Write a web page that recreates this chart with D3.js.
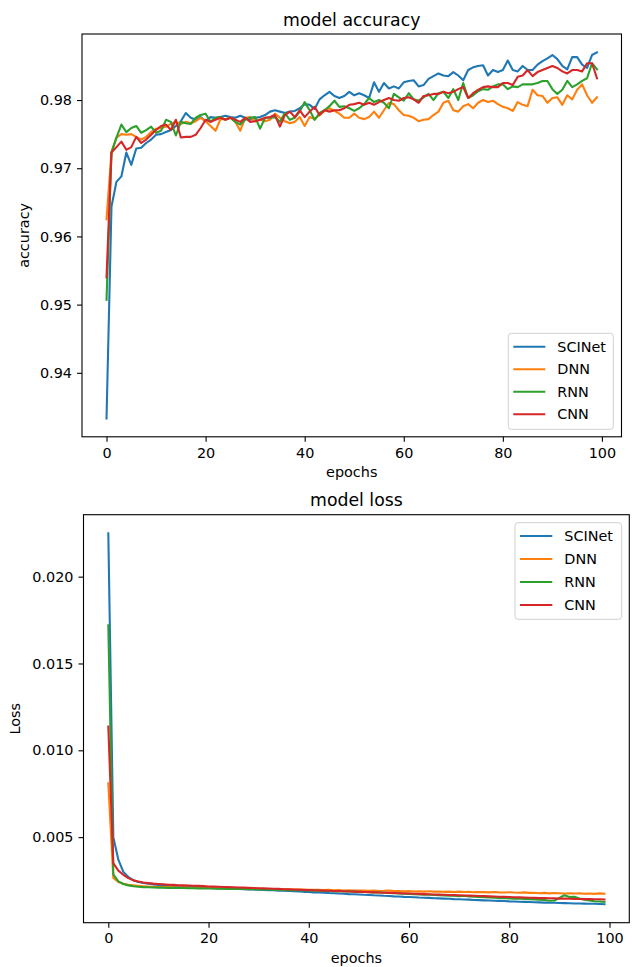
<!DOCTYPE html>
<html>
<head>
<meta charset="utf-8">
<script src="https://cdn.jsdelivr.net/npm/d3@7"></script>
<style>
  html, body { margin: 0; padding: 0; background: #fff; }
  svg { display: block; font-family: "DejaVu Sans", sans-serif; }
</style>
</head>
<body>
<svg id="fig" width="633" height="967"></svg>
<script>
// Training history for the four models, one value per epoch.
const epochs = d3.range(100);
const modelNames = ["SCINet", "DNN", "RNN", "CNN"];
const modelColors = ["#1f77b4", "#ff7f0e", "#2ca02c", "#d62728"];

const accSCINet = [
  0.9333, 0.9644, 0.9680, 0.9688, 0.9723, 0.9705, 0.9729, 0.9730, 0.9737, 0.9742,
  0.9749, 0.9750, 0.9753, 0.9756, 0.9762, 0.9769, 0.9781, 0.9774, 0.9771, 0.9775,
  0.9769, 0.9775, 0.9774, 0.9775, 0.9777, 0.9775, 0.9774, 0.9777, 0.9774, 0.9771,
  0.9774, 0.9775, 0.9778, 0.9783, 0.9785, 0.9783, 0.9781, 0.9783, 0.9784, 0.9788,
  0.9794, 0.9793, 0.9787, 0.9801, 0.9807, 0.9812, 0.9806, 0.9803, 0.9806, 0.9812,
  0.9807, 0.9810, 0.9807, 0.9803, 0.9826, 0.9812, 0.9825, 0.9817, 0.9820, 0.9817,
  0.9826, 0.9828, 0.9829, 0.9820, 0.9822, 0.9831, 0.9835, 0.9839, 0.9836, 0.9835,
  0.9841, 0.9836, 0.9829, 0.9844, 0.9848, 0.9850, 0.9851, 0.9836, 0.9844, 0.9841,
  0.9844, 0.9858, 0.9844, 0.9842, 0.9850, 0.9844, 0.9844, 0.9852, 0.9857, 0.9861,
  0.9866, 0.9860, 0.9850, 0.9845, 0.9863, 0.9863, 0.9852, 0.9847, 0.9866, 0.9870
];
const accDNN = [
  0.9625, 0.9724, 0.9745, 0.9750, 0.9749, 0.9750, 0.9746, 0.9742, 0.9746, 0.9753,
  0.9758, 0.9759, 0.9761, 0.9765, 0.9768, 0.9765, 0.9768, 0.9766, 0.9769, 0.9774,
  0.9769, 0.9762, 0.9755, 0.9772, 0.9772, 0.9774, 0.9768, 0.9755, 0.9774, 0.9775,
  0.9769, 0.9771, 0.9769, 0.9771, 0.9780, 0.9774, 0.9769, 0.9766, 0.9768, 0.9775,
  0.9762, 0.9775, 0.9772, 0.9778, 0.9784, 0.9788, 0.9784, 0.9780, 0.9774, 0.9774,
  0.9780, 0.9774, 0.9772, 0.9775, 0.9783, 0.9774, 0.9785, 0.9796, 0.9794, 0.9785,
  0.9778, 0.9777, 0.9774, 0.9769, 0.9771, 0.9772, 0.9778, 0.9783, 0.9796, 0.9799,
  0.9785, 0.9783, 0.9791, 0.9794, 0.9788, 0.9796, 0.9800, 0.9797, 0.9799, 0.9794,
  0.9790, 0.9788, 0.9784, 0.9797, 0.9793, 0.9791, 0.9815, 0.9807, 0.9806, 0.9796,
  0.9803, 0.9804, 0.9793, 0.9807, 0.9801, 0.9815, 0.9823, 0.9807, 0.9796, 0.9804
];
const accRNN = [
  0.9507, 0.9723, 0.9745, 0.9764, 0.9753, 0.9759, 0.9762, 0.9752, 0.9756, 0.9761,
  0.9752, 0.9755, 0.9771, 0.9768, 0.9748, 0.9768, 0.9766, 0.9765, 0.9774, 0.9778,
  0.9780, 0.9768, 0.9774, 0.9775, 0.9771, 0.9774, 0.9768, 0.9764, 0.9771, 0.9774,
  0.9775, 0.9758, 0.9774, 0.9774, 0.9775, 0.9768, 0.9781, 0.9771, 0.9774, 0.9783,
  0.9797, 0.9785, 0.9771, 0.9781, 0.9785, 0.9791, 0.9799, 0.9790, 0.9791, 0.9788,
  0.9784, 0.9788, 0.9794, 0.9803, 0.9797, 0.9800, 0.9796, 0.9788, 0.9809, 0.9804,
  0.9799, 0.9810, 0.9801, 0.9799, 0.9804, 0.9809, 0.9800, 0.9810, 0.9812, 0.9803,
  0.9816, 0.9800, 0.9825, 0.9803, 0.9807, 0.9813, 0.9816, 0.9815, 0.9820, 0.9823,
  0.9823, 0.9816, 0.9820, 0.9819, 0.9823, 0.9823, 0.9823, 0.9825, 0.9828, 0.9828,
  0.9816, 0.9809, 0.9815, 0.9828, 0.9819, 0.9823, 0.9828, 0.9832, 0.9854, 0.9845
];
const accCNN = [
  0.9540, 0.9723, 0.9731, 0.9739, 0.9727, 0.9731, 0.9746, 0.9737, 0.9742, 0.9749,
  0.9756, 0.9762, 0.9764, 0.9756, 0.9771, 0.9745, 0.9746, 0.9746, 0.9749, 0.9759,
  0.9771, 0.9768, 0.9771, 0.9774, 0.9771, 0.9774, 0.9771, 0.9768, 0.9774, 0.9768,
  0.9769, 0.9771, 0.9774, 0.9775, 0.9778, 0.9761, 0.9778, 0.9783, 0.9775, 0.9785,
  0.9775, 0.9783, 0.9790, 0.9778, 0.9785, 0.9783, 0.9785, 0.9785, 0.9788, 0.9793,
  0.9794, 0.9796, 0.9793, 0.9796, 0.9793, 0.9797, 0.9800, 0.9803, 0.9800, 0.9799,
  0.9803, 0.9804, 0.9801, 0.9796, 0.9806, 0.9807, 0.9809, 0.9809, 0.9812, 0.9810,
  0.9812, 0.9816, 0.9819, 0.9803, 0.9810, 0.9815, 0.9819, 0.9820, 0.9819, 0.9819,
  0.9825, 0.9825, 0.9822, 0.9834, 0.9836, 0.9844, 0.9835, 0.9841, 0.9844, 0.9847,
  0.9850, 0.9847, 0.9842, 0.9839, 0.9844, 0.9844, 0.9842, 0.9854, 0.9854, 0.9832
];

const lossSCINet = [
  0.02250, 0.00500, 0.00370, 0.00300, 0.00270, 0.00252, 0.00242, 0.00236, 0.00232, 0.00228,
  0.00225, 0.00223, 0.00221, 0.00219, 0.00217, 0.00216, 0.00214, 0.00212, 0.00210, 0.00209,
  0.00207, 0.00206, 0.00205, 0.00204, 0.00203, 0.00202, 0.00201, 0.00200, 0.00199, 0.00198,
  0.00197, 0.00196, 0.00195, 0.00194, 0.00192, 0.00191, 0.00190, 0.00188, 0.00187, 0.00185,
  0.00184, 0.00182, 0.00181, 0.00180, 0.00178, 0.00177, 0.00175, 0.00174, 0.00172, 0.00171,
  0.00170, 0.00168, 0.00167, 0.00165, 0.00164, 0.00162, 0.00161, 0.00159, 0.00158, 0.00156,
  0.00155, 0.00154, 0.00152, 0.00151, 0.00150, 0.00148, 0.00147, 0.00146, 0.00145, 0.00143,
  0.00142, 0.00141, 0.00140, 0.00138, 0.00137, 0.00136, 0.00135, 0.00134, 0.00133, 0.00132,
  0.00130, 0.00129, 0.00128, 0.00127, 0.00126, 0.00125, 0.00124, 0.00123, 0.00122, 0.00122,
  0.00121, 0.00120, 0.00119, 0.00118, 0.00118, 0.00117, 0.00116, 0.00116, 0.00115, 0.00114
];
const lossDNN = [
  0.00810, 0.00265, 0.00242, 0.00232, 0.00226, 0.00222, 0.00219, 0.00217, 0.00215, 0.00214,
  0.00213, 0.00212, 0.00212, 0.00211, 0.00210, 0.00211, 0.00209, 0.00208, 0.00209, 0.00207,
  0.00207, 0.00206, 0.00207, 0.00205, 0.00205, 0.00204, 0.00205, 0.00203, 0.00203, 0.00202,
  0.00203, 0.00201, 0.00201, 0.00200, 0.00201, 0.00199, 0.00199, 0.00198, 0.00199, 0.00197,
  0.00197, 0.00196, 0.00197, 0.00195, 0.00196, 0.00194, 0.00195, 0.00193, 0.00194, 0.00193,
  0.00192, 0.00193, 0.00191, 0.00192, 0.00190, 0.00191, 0.00193, 0.00189, 0.00190, 0.00188,
  0.00189, 0.00187, 0.00188, 0.00186, 0.00188, 0.00186, 0.00187, 0.00185, 0.00186, 0.00184,
  0.00186, 0.00184, 0.00185, 0.00183, 0.00184, 0.00183, 0.00182, 0.00184, 0.00182, 0.00181,
  0.00183, 0.00181, 0.00180, 0.00182, 0.00179, 0.00180, 0.00177, 0.00179, 0.00176, 0.00178,
  0.00177, 0.00175, 0.00177, 0.00175, 0.00176, 0.00174, 0.00175, 0.00173, 0.00176, 0.00174
];
const lossRNN = [
  0.01720, 0.00285, 0.00245, 0.00230, 0.00222, 0.00217, 0.00214, 0.00212, 0.00211, 0.00210,
  0.00209, 0.00209, 0.00208, 0.00208, 0.00207, 0.00207, 0.00206, 0.00206, 0.00205, 0.00205,
  0.00204, 0.00204, 0.00203, 0.00203, 0.00202, 0.00202, 0.00201, 0.00201, 0.00200, 0.00200,
  0.00199, 0.00198, 0.00198, 0.00197, 0.00197, 0.00196, 0.00195, 0.00195, 0.00194, 0.00193,
  0.00193, 0.00192, 0.00191, 0.00190, 0.00190, 0.00189, 0.00188, 0.00187, 0.00187, 0.00186,
  0.00185, 0.00184, 0.00183, 0.00182, 0.00181, 0.00180, 0.00178, 0.00177, 0.00176, 0.00174,
  0.00173, 0.00172, 0.00170, 0.00169, 0.00168, 0.00167, 0.00165, 0.00164, 0.00163, 0.00162,
  0.00160, 0.00162, 0.00158, 0.00157, 0.00155, 0.00154, 0.00153, 0.00151, 0.00150, 0.00149,
  0.00147, 0.00146, 0.00147, 0.00144, 0.00143, 0.00141, 0.00140, 0.00138, 0.00134, 0.00135,
  0.00150, 0.00165, 0.00155, 0.00156, 0.00146, 0.00139, 0.00135, 0.00131, 0.00129, 0.00127
];
const lossCNN = [
  0.01137, 0.00350, 0.00307, 0.00283, 0.00264, 0.00251, 0.00244, 0.00239, 0.00235, 0.00232,
  0.00230, 0.00228, 0.00226, 0.00225, 0.00223, 0.00222, 0.00221, 0.00220, 0.00219, 0.00218,
  0.00216, 0.00215, 0.00214, 0.00213, 0.00212, 0.00211, 0.00210, 0.00209, 0.00208, 0.00207,
  0.00206, 0.00205, 0.00204, 0.00203, 0.00202, 0.00200, 0.00199, 0.00198, 0.00197, 0.00196,
  0.00195, 0.00194, 0.00193, 0.00192, 0.00191, 0.00190, 0.00189, 0.00188, 0.00187, 0.00186,
  0.00185, 0.00184, 0.00183, 0.00182, 0.00181, 0.00180, 0.00179, 0.00178, 0.00177, 0.00176,
  0.00175, 0.00174, 0.00173, 0.00172, 0.00171, 0.00170, 0.00169, 0.00168, 0.00167, 0.00166,
  0.00165, 0.00164, 0.00163, 0.00162, 0.00161, 0.00160, 0.00159, 0.00158, 0.00157, 0.00156,
  0.00155, 0.00154, 0.00153, 0.00152, 0.00151, 0.00150, 0.00149, 0.00149, 0.00148, 0.00147,
  0.00146, 0.00146, 0.00145, 0.00144, 0.00144, 0.00143, 0.00143, 0.00142, 0.00142, 0.00141
];

const xTickValues = [0, 20, 40, 60, 80, 100];
const accTickValues = [0.94, 0.95, 0.96, 0.97, 0.98];
const accTickLabels = ["0.94", "0.95", "0.96", "0.97", "0.98"];
const lossTickValues = [0.005, 0.010, 0.015, 0.020];
const lossTickLabels = ["0.005", "0.010", "0.015", "0.020"];

const svg = d3.select("#fig");
const FS = 14.4;       // tick / label / legend text size
const TITLE_FS = 17.3; // panel title size

// Axis limits padded by 5% of the data span on each side.
function padded(lo, hi) {
  const m = (hi - lo) * 0.05;
  return [lo - m, hi + m];
}

function drawPanel(cfg) {
  const { box, series, yTicks, yLabels, title, yLabel, legend } = cfg;
  const g = svg.append("g");

  const x = d3.scaleLinear()
    .domain(padded(d3.min(epochs), d3.max(epochs)))
    .range([box.left, box.right]);
  const allVals = series.flatMap(s => s.values);
  const y = d3.scaleLinear()
    .domain(padded(d3.min(allVals), d3.max(allVals)))
    .range([box.bottom, box.top]);

  // clip the traces to the axes area
  const clipId = "clip-" + title.replace(/\s+/g, "-");
  svg.append("clipPath").attr("id", clipId)
    .append("rect")
    .attr("x", box.left).attr("y", box.top)
    .attr("width", box.right - box.left).attr("height", box.bottom - box.top);

  const line = d3.line()
    .x((d, i) => x(epochs[i]))
    .y(d => y(d));

  g.append("g").attr("clip-path", `url(#${clipId})`)
    .selectAll("path")
    .data(series)
    .join("path")
    .attr("d", s => line(s.values))
    .attr("fill", "none")
    .attr("stroke", s => s.color)
    .attr("stroke-width", 2.1)
    .attr("stroke-linejoin", "round")
    .attr("stroke-linecap", "square");

  // bottom axis
  const xAxis = d3.axisBottom(x)
    .tickValues(xTickValues)
    .tickFormat(d3.format("d"))
    .tickSize(5)
    .tickPadding(5);
  const gx = g.append("g")
    .attr("transform", `translate(0,${box.bottom})`)
    .call(xAxis);

  // left axis
  const yAxis = d3.axisLeft(y)
    .tickValues(yTicks)
    .tickFormat((d, i) => yLabels[i])
    .tickSize(5)
    .tickPadding(5);
  const gy = g.append("g")
    .attr("transform", `translate(${box.left},0)`)
    .call(yAxis);

  [gx, gy].forEach(a => {
    a.select(".domain").remove();
    a.selectAll(".tick line").attr("stroke", "#000").attr("stroke-width", 1.1);
    a.selectAll(".tick text")
      .attr("fill", "#000")
      .style("font-size", FS + "px")
      .style("font-family", "'DejaVu Sans', sans-serif");
  });
  gx.selectAll(".tick text").attr("dy", "0.75em");

  // frame
  g.append("rect")
    .attr("x", box.left).attr("y", box.top)
    .attr("width", box.right - box.left).attr("height", box.bottom - box.top)
    .attr("fill", "none").attr("stroke", "#000").attr("stroke-width", 1.1);

  const cx = (box.left + box.right) / 2;
  g.append("text")
    .attr("x", cx).attr("y", box.top - 8.5)
    .attr("text-anchor", "middle")
    .style("font-size", TITLE_FS + "px")
    .text(title);

  g.append("text")
    .attr("x", cx).attr("y", box.bottom + 40)
    .attr("text-anchor", "middle")
    .style("font-size", FS + "px")
    .text("epochs");

  g.append("text")
    .attr("transform", `translate(${cfg.yLabelX},${(box.top + box.bottom) / 2}) rotate(-90)`)
    .attr("text-anchor", "middle")
    .style("font-size", FS + "px")
    .text(yLabel);

  // legend
  const lg = g.append("g");
  lg.append("rect")
    .attr("x", legend.x).attr("y", legend.y)
    .attr("width", legend.w).attr("height", legend.h)
    .attr("rx", 3).attr("ry", 3)
    .attr("fill", "#fff").attr("fill-opacity", 0.8)
    .attr("stroke", "#d0d0d0").attr("stroke-width", 1);
  series.forEach((s, i) => {
    const ry = legend.y + legend.firstRow + i * legend.rowGap;
    lg.append("line")
      .attr("x1", legend.x + legend.lineStart)
      .attr("x2", legend.x + legend.lineStart + legend.lineLen)
      .attr("y1", ry).attr("y2", ry)
      .attr("stroke", s.color).attr("stroke-width", 2.1);
    lg.append("text")
      .attr("x", legend.x + legend.textStart)
      .attr("y", ry + 5.2)
      .style("font-size", FS + "px")
      .text(s.name);
  });
}

const accSeries = [accSCINet, accDNN, accRNN, accCNN]
  .map((v, i) => ({ name: modelNames[i], color: modelColors[i], values: v }));
const lossSeries = [lossSCINet, lossDNN, lossRNN, lossCNN]
  .map((v, i) => ({ name: modelNames[i], color: modelColors[i], values: v }));

drawPanel({
  box: { left: 82, right: 621.5, top: 34, bottom: 436.8 },
  series: accSeries,
  yTicks: accTickValues,
  yLabels: accTickLabels,
  title: "model accuracy",
  yLabel: "accuracy",
  yLabelX: 29,
  legend: { x: 508.3, y: 333.3, w: 105, h: 96, firstRow: 13.4, rowGap: 22.5,
            lineStart: 5, lineLen: 32, textStart: 49 }
});

drawPanel({
  box: { left: 83.5, right: 629.3, top: 514.7, bottom: 922.7 },
  series: lossSeries,
  yTicks: lossTickValues,
  yLabels: lossTickLabels,
  title: "model loss",
  yLabel: "Loss",
  yLabelX: 20,
  legend: { x: 515, y: 522.7, w: 106.7, h: 96.6, firstRow: 13.3, rowGap: 23,
            lineStart: 5, lineLen: 32.3, textStart: 49.3 }
});
</script>
</body>
</html>
